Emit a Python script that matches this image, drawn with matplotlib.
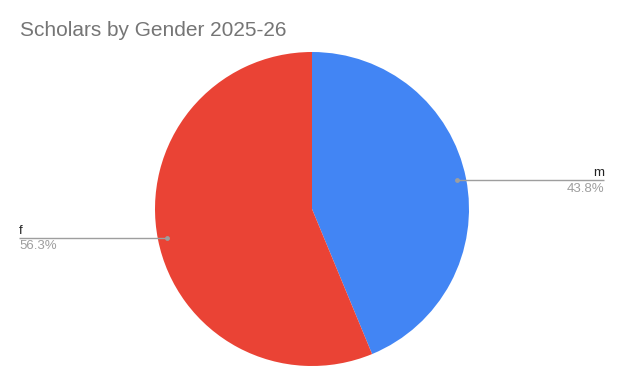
import numpy as np
import matplotlib
matplotlib.use("Agg")
import matplotlib.pyplot as plt

# data
labels = ["m", "f"]
counts = [7, 9]
colors = ["#4285F4", "#EA4335"]
title = "Scholars by Gender 2025-26"

W, H = 624, 386
plt.rcParams['font.family'] = ['Liberation Sans', 'DejaVu Sans']

fig = plt.figure(figsize=(W / 100, H / 100), dpi=100)
ax = fig.add_axes([0, 0, 1, 1])

# pie in pixel coordinates (y up)
cx, cy, r = 312, H - 209, 157
wedges, _ = ax.pie(counts, colors=colors, startangle=90, counterclock=False,
                   center=(cx, cy), radius=r, wedgeprops=dict(linewidth=0))
ax.set_xlim(0, W)
ax.set_ylim(0, H)
ax.set_aspect('equal')
ax.axis('off')

total = sum(counts)
for w, lab, c in zip(wedges, labels, counts):
    mid = np.deg2rad((w.theta1 + w.theta2) / 2)
    px = cx + 0.94 * r * np.cos(mid)
    py = cy + 0.94 * r * np.sin(mid)
    if np.cos(mid) > 0:
        ex, ha = 604, 'right'
    else:
        ex, ha = 19, 'left'
    pct = np.floor(1000 * c / total + 0.5) / 10  # round half up like Sheets
    ax.plot([px, ex], [py, py], color='#9e9e9e', lw=1, solid_capstyle='butt')
    ax.plot(px, py, 'o', ms=3.5, color='#9e9e9e', mec='none')
    ax.text(ex, py + 4, lab, ha=ha, va='baseline', fontsize=9.5, color='#222222')
    ax.text(ex, py - 11.5, f"{pct:.1f}%", ha=ha, va='baseline',
            fontsize=9.5, color='#9e9e9e')

fig.text(20 / W, 1 - 36 / H, title, ha='left', va='baseline', fontsize=15, color='#757575')

fig.savefig("out.png", dpi=100)
